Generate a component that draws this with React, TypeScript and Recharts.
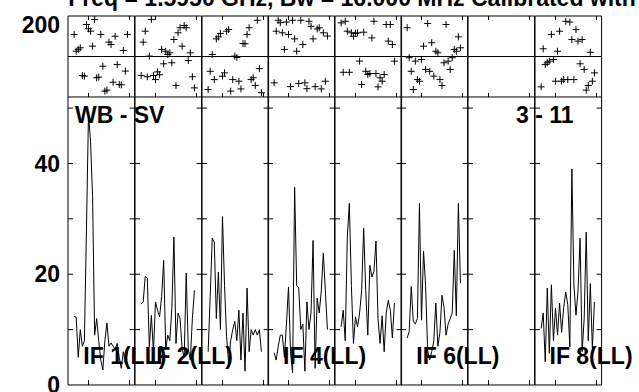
import { ComposedChart, Line, Scatter, XAxis, YAxis, ReferenceLine } from 'recharts';

// channels plotted in every IF panel
const CHANNELS = [3, 4, 5, 6, 7, 8, 9, 10, 11, 12, 13, 14, 15, 16, 17, 18, 19, 20, 21, 22, 23, 24, 25, 26, 27, 28, 29];

const AMP_IF1 = [12.4, 12.2, 5, 10, 7, 8, 28, 49, 44, 34, 9, 12, 8, 4.5, 2.7, 8, 11.2, 7, 7.6, 7, 6.5, 7.5, 5, 3, 6, 4, 6];
const AMP_IF2 = [14.6, 15, 19.6, 19.3, 6.9, 12.6, 6, 15, 13.5, 12.3, 16, 22.5, 6.5, 9, 8, 14, 26.7, 7.5, 13, 12, 6.5, 5, 20.2, 6.5, 4.5, 12, 17.1];
const AMP_IF3 = [6, 16, 26.5, 25.8, 12, 20.4, 10, 30.4, 18, 8.7, 4, 8, 10, 11.5, 8, 13.5, 4.5, 13, 2.5, 17.5, 6, 10, 9, 10, 9, 10, 6];
const AMP_IF4 = [5.8, 4.5, 7, 9, 9, 5, 11, 17.7, 6, 2.2, 35.7, 18, 17.5, 10, 11, 2.5, 15, 10, 13, 26.1, 3, 15.7, 13, 17, 23.8, 17, 10];
const AMP_IF5 = [10.5, 13.5, 8, 26.7, 32.8, 18, 7.5, 12.3, 10.5, 13, 17, 28.3, 17, 9, 21.6, 19.5, 20.5, 26, 12, 7.5, 12.5, 6, 13, 15.3, 13.5, 8.5, 14.8];
const AMP_IF6 = [8.5, 9.6, 17.8, 11.5, 11, 12, 32.8, 11.7, 24.2, 18, 6.3, 4.5, 6, 8, 14.8, 7, 9.5, 16.2, 14, 9, 11, 12, 13, 24.3, 12.5, 32.8, 18.4];
const AMP_IF7: number[] = [];
const AMP_IF8 = [10.2, 13, 4.2, 17.5, 5.7, 18.1, 8, 13.9, 9, 14.8, 9.5, 14, 16.8, 14.5, 6.9, 39, 18, 12.6, 17, 26.5, 6, 12, 27.6, 8, 18.3, 6.6, 15];

const PHASE_IF1 = [109, 26, 35, 43, -94, -97, 158, 137, 125, 51, 183, -105, -102, 109, -48, -171, -166, 71, 59, -127, 100, -40, -138, -140, 30, -72, 109];
const PHASE_IF2 = [-94, 71, 125, -100, 2, 183, -94, -114, -76, -90, 35, -36, 26, 10, 18, -31, 84, -143, 117, 142, 51, 153, 142, -20, 18, -100, -155];
const PHASE_IF3 = [-163, -73, 10, -114, 87, 97, 114, -97, -81, 125, 133, -171, -114, 2, -5, -122, -160, 64, 63, 109, 142, -114, -105, -143, 179, -60, -179];
const PHASE_IF4 = [-130, 125, 179, 167, 117, 35, 170, 109, -149, 179, 87, 26, -133, 179, 59, -130, -159, 174, 149, 87, -149, 136, 142, -160, 117, -122, 101];
const PHASE_IF5 = [166, -78, 174, 125, -78, 117, 100, 114, 117, -23, -138, 120, -73, -89, -84, 92, 174, -84, -150, -105, -122, -89, 158, 76, 158, 59, -23];
const PHASE_IF6 = [142, -6, -73, -163, -23, -114, -122, -15, 51, -64, 163, -73, 68, -97, 26, 18, -114, -143, -31, 158, -23, -64, -6, 35, 26, 97, 43];
const PHASE_IF7: number[] = [];
const PHASE_IF8 = [-150, 38, -40, -31, -23, 109, -15, -122, 26, 125, -122, -114, 174, -114, 170, 84, -114, 133, 76, -36, 84, -64, -166, -143, 21, -122, -81];

const AMP = [AMP_IF1, AMP_IF2, AMP_IF3, AMP_IF4, AMP_IF5, AMP_IF6, AMP_IF7, AMP_IF8];
const PHASE = [PHASE_IF1, PHASE_IF2, PHASE_IF3, PHASE_IF4, PHASE_IF5, PHASE_IF6, PHASE_IF7, PHASE_IF8];
const IF_LABELS = ['IF 1(LL)', 'IF 2(LL)', '', 'IF 4(LL)', '', 'IF 6(LL)', '', 'IF 8(LL)'];

const CHAN_DOMAIN = [0, 32.5];
const CHAN_TICKS = [10, 20, 30];
const AMP_DOMAIN = [0, 52];
const AMP_TICKS = [10, 20, 30, 40, 50];
const AMP_LABEL_TICKS = [0, 20, 40];
const PHASE_DOMAIN = [-200, 200];
const PHASE_TICKS = [-200, 200];

const TITLE = 'Freq = 1.5950 GHz, Bw = 16.000 MHz Calibrated with CL 1';
const BASELINE = 'WB - SV';
const TIMERANGE = '3 - 11';

// layout
const LEFT = 68.3;
const PW = 66.6;
const PH_TOP = 16;
const PH_H = 81;
const AMP_TOP = 97;
const AMP_H = 288;
const PAD = 6;
const LW = 60;
const FONT = '"Liberation Sans", Arial, Helvetica, sans-serif';
const labelStyle = { fontSize: 23, fontWeight: 700, fill: '#000', fontFamily: FONT };

// draws tick marks but no tick text
const NoText = () => <g />;

const Cross = (props: any) => {
  const { cx, cy } = props;
  if (cx == null || cy == null) return null;
  return (
    <path
      d={`M${cx - 3.5},${cy}H${cx + 3.5}M${cx},${cy - 3.5}V${cy + 3.5}`}
      stroke="#000"
      strokeWidth={1}
      fill="none"
    />
  );
};

function PhasePanel({ i }: { i: number }) {
  const rows = PHASE[i].map((p, k) => ({ ch: CHANNELS[k], phase: p }));
  const first = i === 0;
  return (
    <div style={{ position: 'absolute', left: LEFT + i * PW - LW - PAD, top: PH_TOP - PAD }}>
      <ComposedChart
        width={PW + LW + 2 * PAD}
        height={PH_H + 2 * PAD}
        data={rows}
        margin={{ top: PAD, right: PAD, bottom: PAD, left: PAD }}
      >
        <XAxis xAxisId="b" dataKey="ch" type="number" domain={CHAN_DOMAIN} allowDataOverflow ticks={CHAN_TICKS}
          orientation="bottom" mirror tick={NoText} tickSize={4} stroke="#000" />
        <XAxis xAxisId="t" dataKey="ch" type="number" domain={CHAN_DOMAIN} allowDataOverflow ticks={CHAN_TICKS}
          orientation="top" mirror tick={NoText} tickSize={4} stroke="#000" />
        <YAxis yAxisId="lab" type="number" domain={PHASE_DOMAIN} allowDataOverflow ticks={PHASE_TICKS} width={LW}
          tickLine={false} axisLine={false} tickSize={0} tickMargin={8}
          tick={first ? { ...labelStyle, dy: 2 } : NoText} />
        <YAxis yAxisId="l" type="number" domain={PHASE_DOMAIN} allowDataOverflow mirror
          tick={NoText} tickLine={false} stroke="#000" />
        <YAxis yAxisId="r" type="number" domain={PHASE_DOMAIN} allowDataOverflow orientation="right" mirror
          tick={NoText} tickLine={false} stroke="#000" />
        <ReferenceLine xAxisId="b" yAxisId="l" y={0} stroke="#000" />
        <Scatter xAxisId="b" yAxisId="l" dataKey="phase" shape={Cross} isAnimationActive={false} />
      </ComposedChart>
    </div>
  );
}

function AmpPanel({ i }: { i: number }) {
  const rows = AMP[i].map((a, k) => ({ ch: CHANNELS[k], amp: a }));
  const first = i === 0;
  return (
    <div style={{ position: 'absolute', left: LEFT + i * PW - LW - PAD, top: AMP_TOP - PAD }}>
      <ComposedChart
        width={PW + LW + 2 * PAD}
        height={AMP_H + 2 * PAD + 10}
        data={rows}
        margin={{ top: PAD, right: PAD, bottom: PAD + 10, left: PAD }}
      >
        <XAxis xAxisId="b" dataKey="ch" type="number" domain={CHAN_DOMAIN} allowDataOverflow ticks={CHAN_TICKS}
          orientation="bottom" mirror tick={NoText} tickSize={5} stroke="#000" />
        <YAxis yAxisId="lab" type="number" domain={AMP_DOMAIN} allowDataOverflow ticks={AMP_LABEL_TICKS} width={LW}
          tickLine={false} axisLine={false} tickSize={0} tickMargin={8}
          tick={first ? labelStyle : NoText} />
        <YAxis yAxisId="l" type="number" domain={AMP_DOMAIN} allowDataOverflow ticks={AMP_TICKS} mirror
          tick={NoText} tickSize={5} stroke="#000" />
        <YAxis yAxisId="r" type="number" domain={AMP_DOMAIN} allowDataOverflow ticks={AMP_TICKS} orientation="right"
          mirror tick={NoText} tickSize={5} stroke="#000" />
        <Line xAxisId="b" yAxisId="l" type="linear" dataKey="amp" stroke="#000" strokeWidth={1} dot={false}
          isAnimationActive={false} />
      </ComposedChart>
    </div>
  );
}

export default function App() {
  const panels = [0, 1, 2, 3, 4, 5, 6, 7];
  return (
    <div style={{ position: 'absolute', left: 0, top: 0, width: 639, height: 392, overflow: 'hidden', background: '#fff' }}>
      {panels.map((i) => <PhasePanel key={`p${i}`} i={i} />)}
      {panels.map((i) => <AmpPanel key={`a${i}`} i={i} />)}
      <svg width={639} height={392} style={{ position: 'absolute', left: 0, top: 0, pointerEvents: 'none' }}>
        <text x={LEFT} y={6} {...labelStyle}>{TITLE}</text>
        <text x={75} y={123} {...labelStyle}>{BASELINE}</text>
        <text x={516} y={123} {...labelStyle}>{TIMERANGE}</text>
        {IF_LABELS.map((t, i) => (
          <text key={i} x={LEFT + i * PW + 15} y={364} {...labelStyle}>{t}</text>
        ))}
      </svg>
    </div>
  );
}
